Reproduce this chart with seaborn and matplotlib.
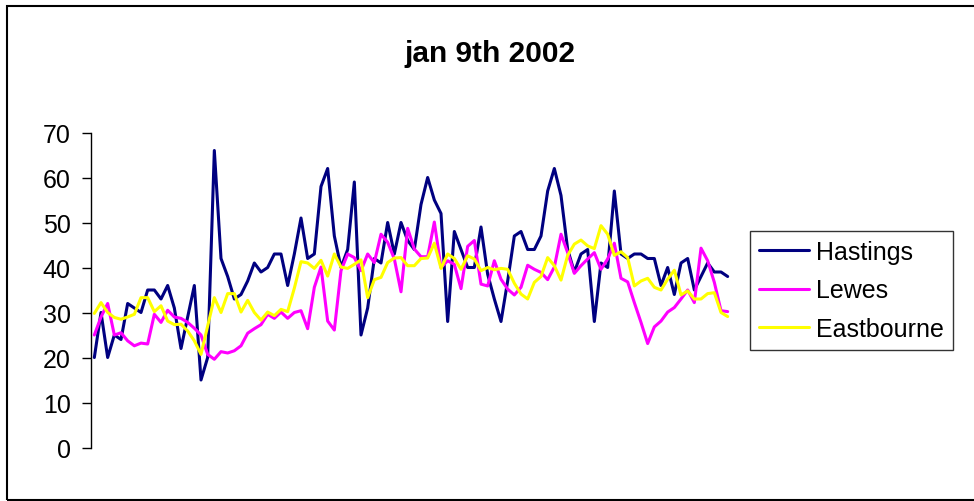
import numpy as np
import pandas as pd
import seaborn as sns
import matplotlib.pyplot as plt
from matplotlib.patches import Rectangle

title = "jan 9th 2002"
series_names = ["Hastings", "Lewes", "Eastbourne"]
series_colors = ["#000080", "#FF00FF", "#FFFF00"]
y_ticks = [0, 10, 20, 30, 40, 50, 60, 70]

hastings = [20, 30, 20, 25, 24, 32, 31, 30, 35, 35, 33, 36, 31, 22, 29, 36,
            15, 20, 66, 42, 38, 33, 34, 37, 41, 39, 40, 43, 43, 36, 43, 51,
            42, 43, 58, 62, 47, 40, 44, 59, 25, 31, 42, 41, 50, 43, 50, 46,
            44, 54, 60, 55, 52, 28, 48, 44, 40, 40, 49, 38.5, 33, 28,
            37, 47, 48, 44, 44, 47, 57, 62, 56, 44, 39, 43, 44, 28, 41, 40,
            57, 43, 42, 43, 43, 42, 42, 36, 40, 34, 41, 42, 35, 38, 41, 39,
            39, 38]
lewes = [25, 29, 32, 25, 25.5, 23.7, 22.6, 23.2, 23, 29.6, 27.8, 30.5, 29, 28.7, 27.8, 26.5,
         25, 20.7, 19.6, 21.3, 21, 21.5, 22.6, 25.4, 26.4, 27.3, 29.6, 28.7, 30.1, 28.7, 30, 30.4,
         26.4, 35.6, 40.1, 28.1, 26.1, 39.3, 43, 42.2, 39.3, 43, 41.1, 47.4, 45.6, 41.9, 34.6, 48.7,
         44.1, 42.4, 42.4, 50.1, 40, 41.5, 40.7, 35.3, 44.7, 46, 36.3, 35.9, 41.5, 37.4,
         35.2, 33.9, 35.6, 40.5, 39.6, 38.9, 37.3, 40.1, 47.4, 43.3, 38.7, 40.4, 41.9, 43.3, 39.6, 41.9,
         45.4, 37.6, 36.8, 32.2, 27.8, 23.1, 26.8, 28.1, 30.1, 31.1, 33, 35, 32.2, 44.3, 41.5, 36.7,
         30.4, 30.2]
eastbourne = [29.8, 32.2, 30, 28.9, 28.5, 29, 29.6, 33.3, 33.3, 30.2, 31.5, 28.1, 27.3, 27.4, 25.9, 23.7,
              20.7, 27, 33.3, 30, 34.2, 34.2, 30.1, 32.7, 30, 28.3, 30.1, 29.3, 30.7, 30.2, 35.4, 41.3,
              41, 39.8, 41.6, 38.1, 43, 40.1, 39.8, 40.7, 41.7, 33.3, 37.3, 37.8, 41.1, 42.1, 42.2, 40.4,
              40.4, 42, 42.1, 45.4, 39.8, 43, 42, 39.6, 42.6, 41.9, 39.3, 40, 39.5, 39.8,
              39.6, 36.5, 34.1, 33, 36.7, 38, 42.2, 40.4, 37.2, 42.7, 45.2, 46.1, 44.8, 44.2, 49.3, 47.4,
              42.7, 43.5, 42.2, 35.9, 37, 37.6, 35.6, 35, 37.4, 39.4, 33.9, 34.8, 33, 33, 34.2, 34.4,
              30, 29.1]

n = len(hastings)
periods = list(range(n))
df = pd.DataFrame({
    "period": periods * 3,
    "value": hastings + lewes + eastbourne,
    "site": [series_names[0]] * n + [series_names[1]] * n + [series_names[2]] * n,
})

sns.set_theme(style="white")
plt.rcParams["font.family"] = ["Liberation Sans", "DejaVu Sans"]
plt.rcParams["text.color"] = "black"

W, H = 974, 502
fig = plt.figure(figsize=(W / 100, H / 100), dpi=100)
fig.patch.set_facecolor("white")

# outer chart-area border
fig.add_artist(Rectangle((6.5 / W, 1 - 500.5 / H), 1.2, (500.5 - 7) / H,
                         transform=fig.transFigure, fill=False,
                         edgecolor="black", linewidth=1.5, clip_on=False))

ax = fig.add_axes([91 / W, 1 - 448.5 / H, 640 / W, 315 / H])
sns.lineplot(data=df, x="period", y="value", hue="site",
             hue_order=series_names, palette=series_colors,
             linewidth=2.2, ax=ax, legend=False)

ax.set_xlim(-0.5, n - 0.5)
ax.set_ylim(0, 70)
ax.set_yticks(y_ticks)
ax.set_xticks([])
ax.set_xlabel("")
ax.set_ylabel("")
for s in ["top", "right", "bottom"]:
    ax.spines[s].set_visible(False)
ax.spines["left"].set_color("black")
ax.spines["left"].set_linewidth(1.0)
ax.tick_params(axis="y", direction="out", length=6.5, width=1.0, color="black",
               labelsize=18, pad=8, left=True, labelcolor="black")
ax.set_facecolor("white")

fig.text(490 / W, 1 - 54 / H, title, ha="center", va="center",
         fontsize=21.5, fontweight="bold", color="black")

handles = [plt.Line2D([], [], color=c, linewidth=2.2) for c in series_colors]
leg = ax.legend(handles, series_names, loc="upper left",
                bbox_to_anchor=(750 / W, 1 - 232 / H), bbox_transform=fig.transFigure,
                fontsize=18, frameon=True, fancybox=False, edgecolor="black",
                handlelength=2.0, handletextpad=0.3, borderpad=0.35,
                labelspacing=0.58, borderaxespad=0, labelcolor="black")
leg.get_frame().set_linewidth(1.0)
leg.get_frame().set_facecolor("white")

fig.savefig("out.png", dpi=100, facecolor="white")
